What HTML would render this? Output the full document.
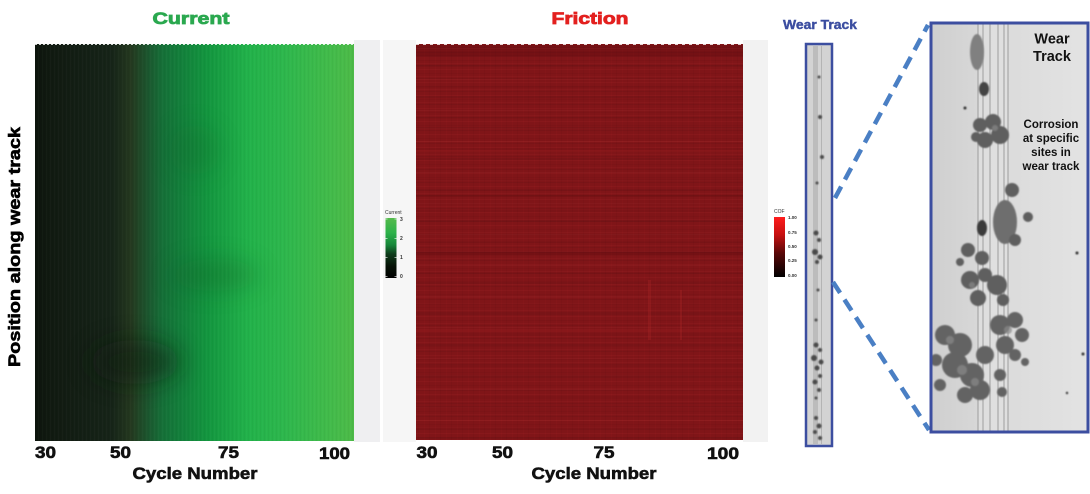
<!DOCTYPE html>
<html><head><meta charset="utf-8"><style>
html,body{margin:0;padding:0;background:#fff;}
svg{display:block;}
text{font-family:"Liberation Sans",Arial,sans-serif;font-weight:bold;}
</style></head><body>
<svg width="1090" height="494" viewBox="0 0 1090 494" xmlns="http://www.w3.org/2000/svg">
<defs>
  <linearGradient id="gGreen" x1="0" x2="1" y1="0" y2="0">
    <stop offset="0" stop-color="#0c140c"/>
    <stop offset="0.05" stop-color="#111a11"/>
    <stop offset="0.24" stop-color="#162418"/>
    <stop offset="0.30" stop-color="#24381f"/>
    <stop offset="0.36" stop-color="#1b5a30"/>
    <stop offset="0.40" stop-color="#157038"/>
    <stop offset="0.455" stop-color="#137f3b"/>
    <stop offset="0.54" stop-color="#13963f"/>
    <stop offset="0.61" stop-color="#1ba545"/>
    <stop offset="0.67" stop-color="#22b24a"/>
    <stop offset="0.78" stop-color="#2db74c"/>
    <stop offset="0.925" stop-color="#42bb4a"/>
    <stop offset="1" stop-color="#4dbb48"/>
  </linearGradient>
  <pattern id="vstripe" width="4" height="10" patternUnits="userSpaceOnUse">
    <rect x="0" y="0" width="1" height="10" fill="#000" opacity="0.03"/>
    <rect x="2" y="0" width="1" height="10" fill="#fff" opacity="0.02"/>
  </pattern>
  <pattern id="hstripeA" width="20" height="13" patternUnits="userSpaceOnUse">
    <rect x="0" y="0" width="20" height="1" fill="#000" opacity="0.05"/>
    <rect x="0" y="4" width="20" height="1" fill="#ff4040" opacity="0.06"/>
    <rect x="0" y="8" width="20" height="1" fill="#000" opacity="0.03"/>
    <rect x="0" y="11" width="20" height="1" fill="#ff5050" opacity="0.05"/>
  </pattern>
  <pattern id="hstripeB" width="40" height="31" patternUnits="userSpaceOnUse">
    <rect x="0" y="3" width="40" height="2" fill="#000" opacity="0.05"/>
    <rect x="0" y="17" width="40" height="1" fill="#ff6060" opacity="0.06"/>
    <rect x="0" y="24" width="40" height="2" fill="#000" opacity="0.03"/>
  </pattern>
  <pattern id="vstripeR" width="11" height="10" patternUnits="userSpaceOnUse">
    <rect x="0" y="0" width="1" height="10" fill="#000" opacity="0.03"/>
    <rect x="6" y="0" width="1" height="10" fill="#ff5050" opacity="0.03"/>
  </pattern>
  <linearGradient id="cbGreen" x1="0" x2="0" y1="0" y2="1">
    <stop offset="0" stop-color="#55bb4c"/>
    <stop offset="0.25" stop-color="#2cb24a"/>
    <stop offset="0.45" stop-color="#17863a"/>
    <stop offset="0.6" stop-color="#0f3d1c"/>
    <stop offset="0.8" stop-color="#071307"/>
    <stop offset="1" stop-color="#000"/>
  </linearGradient>
  <linearGradient id="cbRed" x1="0" x2="0" y1="0" y2="1">
    <stop offset="0" stop-color="#ff1c1c"/>
    <stop offset="0.3" stop-color="#c51010"/>
    <stop offset="0.6" stop-color="#5a0808"/>
    <stop offset="1" stop-color="#000"/>
  </linearGradient>
  <linearGradient id="micro" x1="0" x2="1" y1="0" y2="0">
    <stop offset="0" stop-color="#cfcfcf"/>
    <stop offset="0.4" stop-color="#dadada"/>
    <stop offset="1" stop-color="#e3e3e3"/>
  </linearGradient>
  <filter id="blur6" x="-100%" y="-100%" width="300%" height="300%"><feGaussianBlur stdDeviation="12"/></filter>
  <filter id="blur1" x="-50%" y="-50%" width="200%" height="200%"><feGaussianBlur stdDeviation="0.9"/></filter>
</defs>

<!-- Titles -->
<text x="191" y="24" font-size="17" fill="#2aa84f" stroke="#2aa84f" stroke-width="0.8" text-anchor="middle" textLength="77" lengthAdjust="spacingAndGlyphs">Current</text>
<text x="590" y="24" font-size="17" fill="#e3201f" stroke="#e3201f" stroke-width="0.8" text-anchor="middle" textLength="77" lengthAdjust="spacingAndGlyphs">Friction</text>

<!-- panel backgrounds -->
<rect x="354" y="40" width="26" height="402" fill="#efeff1"/>
<rect x="383" y="40" width="33" height="402" fill="#f6f6f6"/>
<rect x="743" y="40" width="25" height="402" fill="#f2f2f2"/>

<!-- Current heatmap -->
<clipPath id="clipC"><rect x="35" y="44" width="319" height="397"/></clipPath>
<rect x="35" y="44" width="319" height="397" fill="url(#gGreen)"/>
<g clip-path="url(#clipC)">
  <ellipse cx="135" cy="362" rx="45" ry="22" fill="#0a1a0c" opacity="0.55" filter="url(#blur6)"/>
  <ellipse cx="215" cy="275" rx="45" ry="16" fill="#0b4a1e" opacity="0.25" filter="url(#blur6)"/>
  <ellipse cx="195" cy="150" rx="25" ry="25" fill="#0b5a24" opacity="0.2" filter="url(#blur6)"/>
  <rect x="35" y="44" width="319" height="397" fill="url(#vstripe)"/>
  <line x1="35" y1="44.5" x2="354" y2="44.5" stroke="#fff" stroke-width="1" stroke-dasharray="2 2" opacity="0.8"/>
</g>

<!-- Y label -->
<text transform="translate(20,247) rotate(-90)" x="0" y="0" font-size="17" fill="#000" stroke="#000" stroke-width="0.6" text-anchor="middle" textLength="240" lengthAdjust="spacingAndGlyphs">Position along wear track</text>

<!-- Current ticks -->
<g font-size="16.5" fill="#111" stroke="#111" stroke-width="0.6" text-anchor="middle">
  <text x="45.5" y="458" textLength="21" lengthAdjust="spacingAndGlyphs">30</text>
  <text x="120.5" y="458" textLength="21" lengthAdjust="spacingAndGlyphs">50</text>
  <text x="228.5" y="458" textLength="21" lengthAdjust="spacingAndGlyphs">75</text>
  <text x="334.5" y="459" textLength="31" lengthAdjust="spacingAndGlyphs">100</text>
  <text x="195" y="479" font-size="17" textLength="125" lengthAdjust="spacingAndGlyphs">Cycle Number</text>
</g>

<!-- Current colorbar -->
<text x="385" y="214" font-size="5" fill="#333" style="font-weight:normal">Current</text>
<rect x="385.5" y="218" width="11" height="60" fill="url(#cbGreen)"/>
<g stroke="#fff" stroke-width="0.6">
  <line x1="385.5" y1="219" x2="387.5" y2="219"/><line x1="394.5" y1="219" x2="396.5" y2="219"/>
  <line x1="385.5" y1="238.5" x2="387.5" y2="238.5"/><line x1="394.5" y1="238.5" x2="396.5" y2="238.5"/>
  <line x1="385.5" y1="257.5" x2="387.5" y2="257.5"/><line x1="394.5" y1="257.5" x2="396.5" y2="257.5"/>
  <line x1="385.5" y1="276.5" x2="387.5" y2="276.5"/><line x1="394.5" y1="276.5" x2="396.5" y2="276.5"/>
</g>
<g font-size="5" fill="#333" style="font-weight:normal">
  <text x="400" y="221">3</text><text x="400" y="240">2</text><text x="400" y="259">1</text><text x="400" y="278">0</text>
</g>

<!-- Friction heatmap -->
<clipPath id="clipF"><rect x="416" y="44" width="327" height="396"/></clipPath>
<rect x="416" y="44" width="327" height="396" fill="#801518"/>
<g clip-path="url(#clipF)">
  <rect x="416" y="44" width="327" height="396" fill="url(#hstripeA)"/>
  <rect x="416" y="44" width="327" height="396" fill="url(#hstripeB)"/>
  <rect x="416" y="44" width="327" height="396" fill="url(#vstripeR)"/>
  <rect x="416" y="45" width="327" height="12" fill="#5a0a0c" opacity="0.3"/>
  <rect x="416" y="252" width="327" height="3" fill="#5a0a0c" opacity="0.3"/>
  <rect x="416" y="330" width="327" height="2" fill="#a02020" opacity="0.25"/>
  <rect x="416" y="150" width="327" height="2" fill="#a02020" opacity="0.25"/>
  <rect x="416" y="195" width="327" height="2" fill="#5a0a0c" opacity="0.25"/>
  <rect x="648" y="280" width="3" height="60" fill="#b02828" opacity="0.3"/>
  <rect x="680" y="290" width="2" height="50" fill="#b02828" opacity="0.3"/>
  <line x1="416" y1="44.5" x2="743" y2="44.5" stroke="#fff" stroke-width="1" stroke-dasharray="3 4" opacity="0.8"/>
</g>

<!-- Friction ticks -->
<g font-size="16.5" fill="#111" stroke="#111" stroke-width="0.6" text-anchor="middle">
  <text x="427" y="458" textLength="21" lengthAdjust="spacingAndGlyphs">30</text>
  <text x="502.5" y="458" textLength="21" lengthAdjust="spacingAndGlyphs">50</text>
  <text x="604" y="458" textLength="21" lengthAdjust="spacingAndGlyphs">75</text>
  <text x="723" y="459" textLength="32" lengthAdjust="spacingAndGlyphs">100</text>
  <text x="594" y="479" font-size="17" textLength="125" lengthAdjust="spacingAndGlyphs">Cycle Number</text>
</g>

<!-- COF colorbar -->
<text x="774" y="213" font-size="5" fill="#333" style="font-weight:normal">COF</text>
<rect x="774" y="217" width="11" height="60" fill="url(#cbRed)"/>
<g font-size="4.5" fill="#333" style="font-weight:normal">
  <text x="788" y="219">1.00</text><text x="788" y="234">0.75</text><text x="788" y="248">0.50</text><text x="788" y="262">0.25</text><text x="788" y="277">0.00</text>
</g>

<!-- Wear Track small title -->
<text x="820" y="29" font-size="13" fill="#3b4da0" stroke="#3b4da0" stroke-width="0.4" text-anchor="middle" textLength="74" lengthAdjust="spacingAndGlyphs">Wear Track</text>

<!-- small track -->
<rect x="806" y="44" width="26" height="402" fill="#d3d3d3"/>
<rect x="813" y="46" width="5" height="398" fill="#b2b2b2" opacity="0.7"/>
<rect x="821" y="46" width="1" height="398" fill="#a0a0a0" opacity="0.6"/>
<g fill="#4a4a4a" filter="url(#blur1)">
  <circle cx="819" cy="77" r="1.5"/><circle cx="820" cy="117" r="2"/><circle cx="822" cy="157" r="2"/><circle cx="817" cy="183" r="1.5"/>
  <circle cx="816" cy="233" r="2.5"/><circle cx="819" cy="240" r="2"/><circle cx="815" cy="252" r="3"/><circle cx="820" cy="257" r="2.5"/><circle cx="817" cy="262" r="2"/>
  <circle cx="818" cy="290" r="1.5"/><circle cx="816" cy="320" r="1.5"/>
  <circle cx="816" cy="345" r="2.5"/><circle cx="820" cy="350" r="2"/><circle cx="814" cy="358" r="3"/><circle cx="821" cy="362" r="2.5"/><circle cx="817" cy="368" r="2.5"/><circle cx="820" cy="376" r="2"/><circle cx="815" cy="382" r="2.5"/><circle cx="819" cy="390" r="2"/><circle cx="816" cy="398" r="1.5"/>
  <circle cx="816" cy="418" r="2"/><circle cx="819" cy="426" r="2.5"/><circle cx="815" cy="432" r="2"/><circle cx="820" cy="438" r="2"/>
</g>
<rect x="806" y="44" width="26" height="402" fill="none" stroke="#3c4ea0" stroke-width="2.5"/>

<!-- dashed zoom lines -->
<line x1="835" y1="198" x2="928" y2="25" stroke="#4a7fc4" stroke-width="4.5" stroke-dasharray="13 8"/>
<line x1="833" y1="282" x2="929" y2="430" stroke="#4a7fc4" stroke-width="4.5" stroke-dasharray="13 8"/>

<!-- big micro box -->
<clipPath id="clipB"><rect x="931" y="23" width="157" height="409"/></clipPath>
<rect x="931" y="23" width="157" height="409" fill="url(#micro)"/>
<g clip-path="url(#clipB)">
  <rect x="978" y="23" width="30" height="409" fill="#e4e4e4" opacity="0.5"/>
  <g stroke="#8e8e8e" stroke-width="1" opacity="0.8">
    <line x1="978" y1="23" x2="978" y2="432"/><line x1="983" y1="23" x2="983" y2="432"/>
    <line x1="990" y1="23" x2="990" y2="432"/><line x1="998" y1="23" x2="998" y2="432"/>
    <line x1="1004" y1="23" x2="1004" y2="432"/><line x1="1008" y1="23" x2="1008" y2="432"/>
  </g>
  <g filter="url(#blur1)">
    <ellipse cx="977" cy="52" rx="7" ry="18" fill="#808080"/>
    <ellipse cx="984" cy="89" rx="5" ry="7" fill="#444"/>
    <g fill="#5e5e5e">
      <circle cx="980" cy="125" r="7"/><circle cx="993" cy="122" r="8"/><circle cx="1000" cy="135" r="9"/><circle cx="985" cy="140" r="8"/><circle cx="976" cy="137" r="5"/>
      <circle cx="1012" cy="190" r="7"/>
      <ellipse cx="982" cy="228" rx="5" ry="8" fill="#3a3a3a"/>
      <ellipse cx="1005" cy="222" rx="12" ry="22" fill="#6e6e6e"/>
      <circle cx="1015" cy="240" r="6"/><circle cx="1028" cy="217" r="5"/>
      <circle cx="968" cy="250" r="7"/><circle cx="982" cy="258" r="7"/><circle cx="960" cy="262" r="4"/>
      <circle cx="970" cy="280" r="9"/><circle cx="985" cy="275" r="7"/><circle cx="997" cy="285" r="10"/><circle cx="978" cy="298" r="8"/><circle cx="1003" cy="300" r="6"/>
    </g>
    <g fill="#636363">
      <circle cx="945" cy="335" r="10"/><circle cx="960" cy="345" r="12"/><circle cx="955" cy="365" r="13"/><circle cx="972" cy="375" r="12"/><circle cx="980" cy="390" r="10"/><circle cx="940" cy="385" r="6"/><circle cx="965" cy="395" r="8"/><circle cx="985" cy="355" r="9"/><circle cx="936" cy="360" r="6"/>
      <circle cx="1000" cy="325" r="10"/><circle cx="1015" cy="320" r="8"/><circle cx="1022" cy="335" r="7"/><circle cx="1005" cy="345" r="9"/><circle cx="1015" cy="355" r="6"/><circle cx="1025" cy="362" r="4"/>
      <circle cx="1000" cy="375" r="6"/><circle cx="1002" cy="392" r="5"/>
    </g>
    <g fill="#8a8a8a" opacity="0.7">
      <circle cx="950" cy="340" r="4"/><circle cx="962" cy="370" r="5"/><circle cx="975" cy="382" r="4"/><circle cx="1008" cy="330" r="4"/><circle cx="995" cy="128" r="3"/><circle cx="972" cy="285" r="3"/>
    </g>
    <g fill="#333">
      <circle cx="1077" cy="253" r="1.5"/><circle cx="1083" cy="354" r="1.5"/><circle cx="1067" cy="393" r="1.2"/><circle cx="965" cy="108" r="1.5"/>
    </g>
  </g>
</g>
<rect x="931" y="23" width="157" height="409" fill="none" stroke="#3c4ea0" stroke-width="3"/>

<!-- text in box -->
<g fill="#111" text-anchor="middle">
  <text x="1052" y="43.5" font-size="14.5">Wear</text>
  <text x="1052" y="61" font-size="14.5">Track</text>
  <text x="1051" y="128" font-size="11.5">Corrosion</text>
  <text x="1051" y="142" font-size="11.5">at specific</text>
  <text x="1051" y="156" font-size="11.5">sites in</text>
  <text x="1051" y="170" font-size="11.5">wear track</text>
</g>
</svg>
</body></html>
